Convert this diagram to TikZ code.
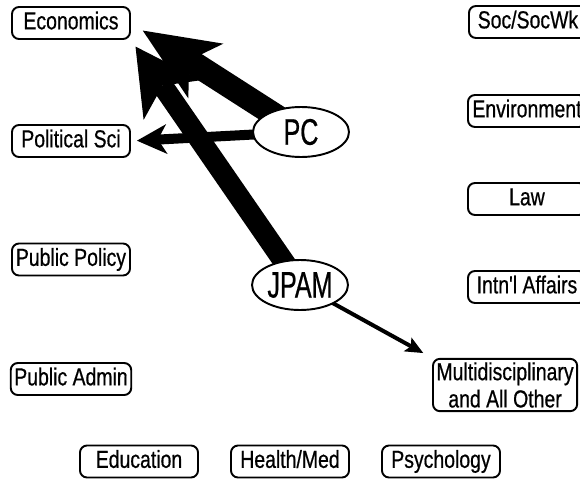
\documentclass[tikz,border=0pt]{standalone}
\usepackage{fontspec}
\setmainfont{Liberation Sans}
\newfontfamily\boxfont[FakeStretch=0.79,FakeBold=0.6]{Liberation Sans}
\newfontfamily\ovalfont[FakeStretch=0.68,FakeBold=0.6]{Liberation Sans}
\usetikzlibrary{shapes.geometric,arrows.meta,backgrounds}
\tikzset{
  field/.style={draw,line width=1.1pt,rounded corners=4pt,fill=white,
    minimum width=2.36cm,minimum height=0.64cm,inner sep=2pt,
    text height=10pt,text depth=2.8pt,
    font=\boxfont\fontsize{14}{15.5}\selectfont,align=center},
  journal/.style={draw,ellipse,line width=1.1pt,fill=white,inner sep=0pt,
    minimum width=1.92cm,minimum height=1cm,font=\ovalfont\fontsize{21}{23}\selectfont},
  cite/.style={line width=#1}
}
\begin{document}
\begin{tikzpicture}
\useasboundingbox (0,0) rectangle (11.6,9.6);
% left column
\node[field] (econ) at (1.42,9.14) {Economics};
\node[field] (polsci) at (1.42,6.78) {Political Sci};
\node[field] (pubpol) at (1.42,4.41) {Public Policy};
\node[field] (pubadm) at (1.42,2.02) {Public Admin};
% right column
\node[field,anchor=west] (soc) at (9.36,9.16) {Soc/SocWk};
\node[field,anchor=west] (env) at (9.34,7.38) {Environment};
\node[field,anchor=west] (law) at (9.34,5.62) {Law};
\node[field,anchor=west] (intl) at (9.34,3.86) {Intn'l Affairs};
\node[field,anchor=west,text height={},text depth={},minimum height=1cm] (multi) at (8.64,1.90) {Multidisciplinary\\and All Other};
% bottom row
\node[field] (educ) at (2.78,0.37) {Education};
\node[field] (health) at (5.80,0.37) {Health/Med};
\node[field] (psych) at (8.82,0.37) {Psychology};
% journals
\node[journal] (pc) at (6.02,6.96) {PC};
\node[journal] (jpam) at (6.00,3.90) {JPAM};
% citation flows
\begin{pgfonlayer}{background}
\draw[cite=0.48cm,-{Stealth[length=1.5cm,width=1.3cm,inset=0.4cm,line width=0pt]},shorten >=0.28cm] (pc.center) -- (econ.east);
\draw[cite=0.42cm,-{Stealth[length=1.3cm,width=1.4cm,inset=0.35cm,line width=0pt]},shorten >=0.16cm] (jpam.center) -- (econ.south east);
\draw[cite=0.2cm,-{Stealth[length=0.6cm,width=0.6cm,inset=0.18cm,line width=0pt]},shorten >=0.12cm] (pc.center) -- (polsci.east);
\draw[cite=0.08cm,-{Stealth[length=0.36cm,width=0.32cm,inset=0.08cm,line width=0pt]},shorten >=0.2cm] (jpam.center) -- (multi.north west);
\end{pgfonlayer}
\end{tikzpicture}
\end{document}
